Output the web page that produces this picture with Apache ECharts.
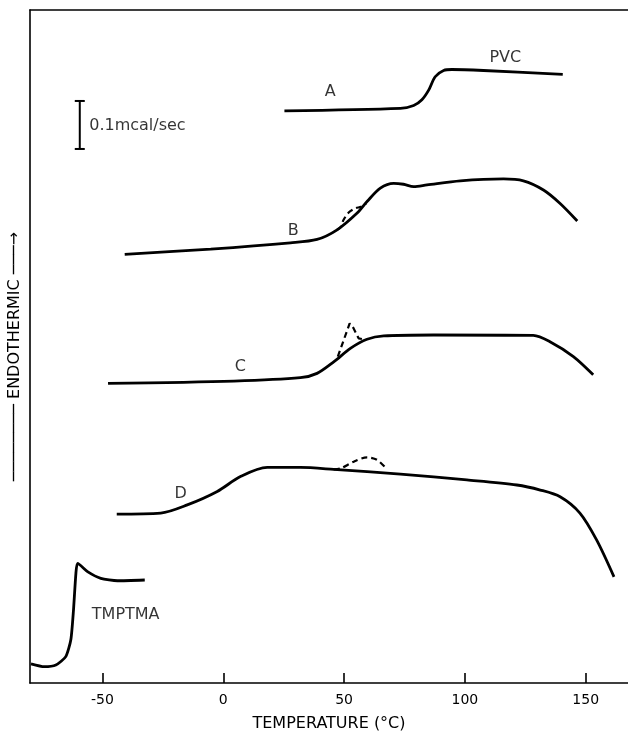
<!DOCTYPE html>
<html>
<head>
<meta charset="utf-8">
<title>DSC thermograms</title>
<script src="https://cdn.jsdelivr.net/npm/echarts@6/dist/echarts.min.js"></script>
<style>
  html, body { margin: 0; padding: 0; background: #fff; }
  #chart { width: 628px; height: 733px; }
</style>
</head>
<body>
<div id="chart"></div>
<script>
// Temperature ticks on the bottom axis (°C)
const tickValues = [-50, 0, 50, 100, 150];

// Heat-flow traces: [temperature °C, heat flow in mcal/sec, offset per trace]
const curveA = [[25.3, 1.192], [73.3, 1.197], [78.8, 1.203], [82.2, 1.215], [85.0, 1.235],
  [87.7, 1.263], [91.2, 1.276], [94.6, 1.278], [107.7, 1.276], [140.5, 1.268]];

const curveB = [[-40.8, 0.893], [-5.2, 0.904], [27.8, 0.917], [38.8, 0.924], [47.1, 0.944],
  [55.4, 0.979], [59.5, 1.003], [65.0, 1.031], [70.5, 1.041], [74.6, 1.039], [78.8, 1.034],
  [84.3, 1.0375], [98.1, 1.046], [116.0, 1.050], [124.2, 1.046], [132.5, 1.027],
  [139.4, 0.999], [146.5, 0.9625]];
const dashB = [[47.1, 0.944], [48.5, 0.949], [49.8, 0.965], [51.9, 0.980], [54.7, 0.989],
  [57.0, 0.992], [59.2, 0.999]];

const curveC = [[-47.7, 0.624], [4.4, 0.629], [31.9, 0.636], [38.8, 0.645], [45.7, 0.669],
  [52.6, 0.697], [59.5, 0.716], [66.4, 0.723], [87.0, 0.725], [128.3, 0.724], [135.2, 0.711],
  [144.9, 0.680], [153.1, 0.642]];
const dashC = [[47.4, 0.680], [52.3, 0.749], [53.8, 0.740], [56.0, 0.718], [58.1, 0.716]];

const curveD = [[-44.1, 0.352], [-25.9, 0.354], [-14.9, 0.371], [-2.5, 0.399], [7.1, 0.430],
  [18.2, 0.449], [31.9, 0.449], [45.7, 0.445], [73.3, 0.435], [100.8, 0.423], [121.5, 0.4125],
  [131.2, 0.402], [139.4, 0.388], [147.6, 0.354], [154.5, 0.298], [161.7, 0.221]];
const dashD = [[45.7, 0.445], [48.5, 0.447], [54.0, 0.461], [59.5, 0.470], [63.6, 0.465],
  [67.8, 0.445]];

const curveTMPTMA = [[-79.6, 0.040], [-74.1, 0.034], [-69.3, 0.0375], [-65.2, 0.055],
  [-63.1, 0.090], [-62.0, 0.152], [-61.0, 0.2285], [-60.3, 0.249], [-56.2, 0.232],
  [-50.7, 0.218], [-43.8, 0.213], [-32.5, 0.2146]];

// Trace labels: [temperature, heat flow, text]
const curveLabels = [[116.7, 1.302, 'PVC'], [44.3, 1.231, 'A'], [28.9, 0.942, 'B'],
  [7.1, 0.658, 'C'], [-17.6, 0.394, 'D'], [-40.4, 0.142, 'TMPTMA']];

// Scale bar: [temperature, lower end, upper end] — spans 0.1 mcal/sec
const scaleBar = [[-59.4, 1.1125, 1.2125]];
const scaleText = [[-55.5, 1.160, '0.1mcal/sec']];

const ink = '#000';
const font = 'DejaVu Sans';

function trace(data, dashed, smooth) {
  return {
    type: 'line',
    data: data,
    symbol: 'none',
    smooth: smooth,
    silent: true,
    z: dashed ? 3 : 2,
    lineStyle: { color: ink, width: dashed ? 2.2 : 2.8, type: dashed ? [6, 4] : 'solid' }
  };
}

const chart = echarts.init(document.getElementById('chart'));
chart.setOption({
  animation: false,
  backgroundColor: '#fff',
  grid: { left: 30, right: 0, top: 10, bottom: 50, outerBoundsMode: 'none', containLabel: false },
  xAxis: [{
    type: 'value', min: -80, max: 167.5, position: 'bottom',
    axisLine: { show: true, onZero: false, lineStyle: { color: ink, width: 1.6 } },
    axisTick: { show: true, inside: true, length: 10, customValues: tickValues,
      lineStyle: { color: ink, width: 1.6 } },
    axisLabel: { customValues: tickValues, color: ink, fontSize: 14, margin: 10, fontFamily: font },
    splitLine: { show: false },
    name: 'TEMPERATURE (°C)', nameLocation: 'middle', nameGap: 33,
    nameTextStyle: { color: ink, fontSize: 16, fontFamily: font }
  }, {
    type: 'value', min: -80, max: 167.5, position: 'top',
    axisLine: { show: true, onZero: false, lineStyle: { color: ink, width: 1.6 } },
    axisTick: { show: false }, axisLabel: { show: false }, splitLine: { show: false }
  }],
  yAxis: {
    type: 'value', min: 0, max: 1.402,
    axisLine: { show: true, onZero: false, lineStyle: { color: ink, width: 1.6 } },
    axisTick: { show: false }, axisLabel: { show: false }, splitLine: { show: false },
    name: '──────── ENDOTHERMIC ───→', nameLocation: 'middle', nameRotate: 90, nameGap: 7,
    nameTextStyle: { color: ink, fontSize: 16, fontFamily: font, padding: [0, 20, 0, 0] }
  },
  series: [
    trace(curveA, false, 0.3),
    trace(curveB, false, 0.3),
    trace(dashB, true, 0.3),
    trace(curveC, false, 0.3),
    trace(dashC, true, false),
    trace(curveD, false, 0.3),
    trace(dashD, true, 0.3),
    trace(curveTMPTMA, false, 0.2),
    {
      type: 'custom',
      silent: true,
      data: scaleBar,
      encode: { x: 0, y: [1, 2] },
      renderItem: function (params, api) {
        const lo = api.coord([api.value(0), api.value(1)]);
        const hi = api.coord([api.value(0), api.value(2)]);
        const cap = 5;
        const st = { stroke: ink, lineWidth: 2 };
        return {
          type: 'group',
          children: [
            { type: 'line', shape: { x1: lo[0], y1: lo[1], x2: hi[0], y2: hi[1] }, style: st },
            { type: 'line', shape: { x1: hi[0] - cap, y1: hi[1], x2: hi[0] + cap, y2: hi[1] }, style: st },
            { type: 'line', shape: { x1: lo[0] - cap, y1: lo[1], x2: lo[0] + cap, y2: lo[1] }, style: st }
          ]
        };
      }
    },
    {
      type: 'scatter',
      silent: true,
      symbolSize: 0,
      data: curveLabels.map(l => ({ value: [l[0], l[1]], name: l[2] })),
      label: { show: true, position: 'inside', formatter: '{b}', color: ink,
        fontSize: 16, fontFamily: font }
    },
    {
      type: 'scatter',
      silent: true,
      symbolSize: 0,
      data: scaleText.map(l => ({ value: [l[0], l[1]], name: l[2] })),
      label: { show: true, position: 'inside', align: 'left', formatter: '{b}', color: ink,
        fontSize: 16, fontFamily: font }
    }
  ]
});
</script>
</body>
</html>
